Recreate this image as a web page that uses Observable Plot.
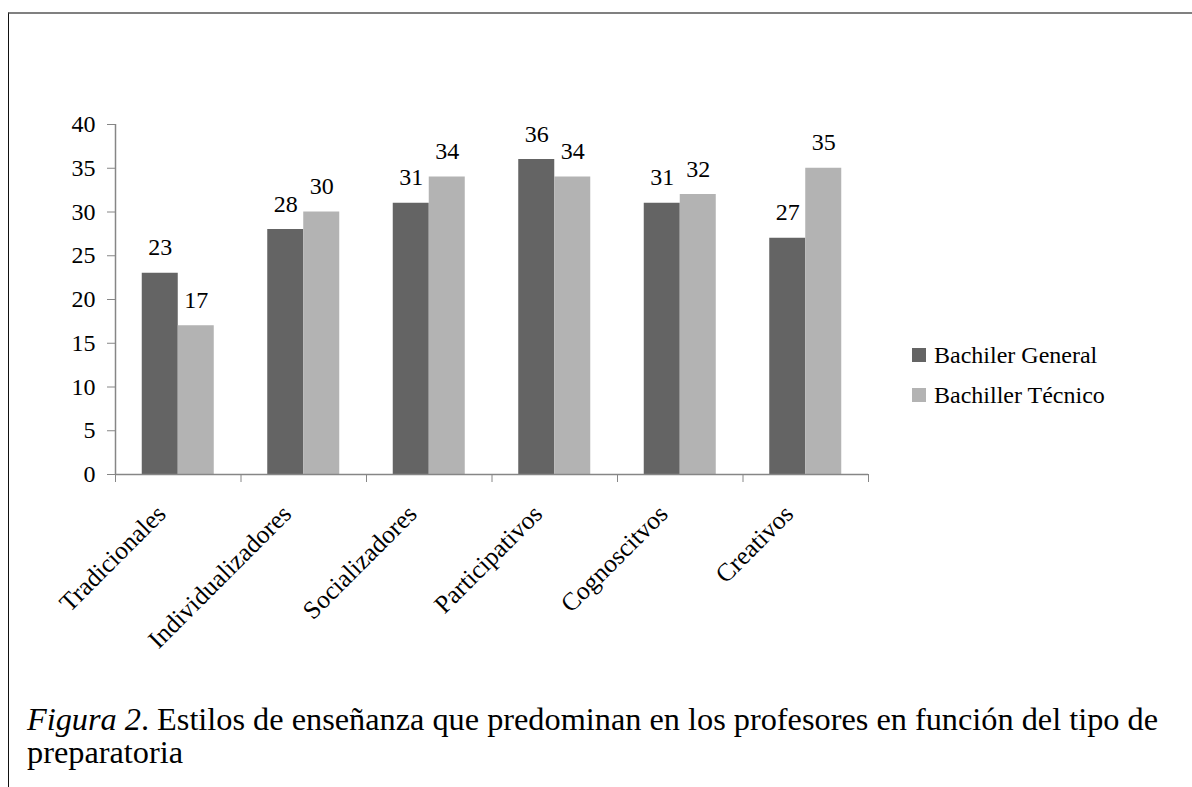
<!DOCTYPE html>
<html>
<head>
<meta charset="utf-8">
<script src="https://cdn.jsdelivr.net/npm/d3@7"></script>
<script src="https://cdn.jsdelivr.net/npm/@observablehq/plot@0.6"></script>
<style>
  body { margin: 0; background: #fff; }
  #wrap { position: relative; width: 1192px; height: 787px; overflow: hidden; font-family: "Liberation Serif", "Times New Roman", serif; }
  #frame { position: absolute; left: 8px; top: 12px; width: 1300px; height: 900px; border-top: 2px solid #808080; border-left: 1px solid #111; }
  #chart { position: absolute; left: 0; top: 0; }
  #chart svg g[aria-label="y-axis tick label"] text { fill: #000; }
  .lg-row { position: absolute; left: 912px; height: 40px; line-height: 40px; font-size: 24px; color: #000; white-space: nowrap; }
  .lg-sw { position: absolute; left: 0; top: 13px; width: 14px; height: 14px; }
  .lg-tx { position: absolute; left: 22px; top: 0; }
  #caption { position: absolute; left: 27px; top: 703px; font-size: 32.3px; line-height: 33px; color: #000; white-space: nowrap; }
</style>
</head>
<body>
<div id="wrap">
  <div id="frame"></div>
  <div id="chart"></div>
  <div id="legend"></div>
  <div id="caption"><i>Figura 2</i>. Estilos de enseñanza que predominan en los profesores en función del tipo de<br>preparatoria</div>
</div>
<script>
const categories = ["Tradicionales", "Individualizadores", "Socializadores", "Participativos", "Cognoscitvos", "Creativos"];
const series = ["Bachiler General", "Bachiller Técnico"];
const general = [23, 28, 31, 36, 31, 27];
const tecnico = [17, 30, 34, 34, 32, 35];
const yTicks = [0, 5, 10, 15, 20, 25, 30, 35, 40];
const colors = ["#646464", "#b3b3b3"];

const rowsG = categories.map((c, i) => ({i, c, s: series[0], v: general[i]}));
const rowsT = categories.map((c, i) => ({i, c, s: series[1], v: tecnico[i]}));
const catIdx = categories.map((c, i) => ({i, c}));
const boundaries = d3.range(categories.length + 1);

const axisColor = "#868686";

const chart = Plot.plot({
  width: 1192,
  height: 690,
  marginLeft: 115,
  marginRight: 324,
  marginTop: 124,
  marginBottom: 216,
  style: {fontFamily: "'Liberation Serif', 'Times New Roman', serif", fontSize: "24px", background: "transparent", overflow: "visible"},
  x: {domain: [0, categories.length], axis: null},
  y: {domain: [0, 40], axis: null},
  color: {domain: series, range: colors},
  marks: [
    Plot.rectY(rowsG, {x1: d => d.i, x2: d => d.i + 1, y: "v", fill: "s", insetLeft: 26.75, insetRight: 62.75}),
    Plot.rectY(rowsT, {x1: d => d.i, x2: d => d.i + 1, y: "v", fill: "s", insetLeft: 62.75, insetRight: 26.75}),
    Plot.text(rowsG, {x: d => d.i + 0.5, y: "v", text: d => String(d.v), dx: -18, dy: -18, lineAnchor: "bottom", fontSize: 24, fill: "#000"}),
    Plot.text(rowsT, {x: d => d.i + 0.5, y: "v", text: d => String(d.v), dx: 18, dy: -18, lineAnchor: "bottom", fontSize: 24, fill: "#000"}),
    Plot.ruleX([0], {y1: 0, y2: 40, stroke: axisColor, strokeWidth: 1.5}),
    Plot.ruleY([0], {stroke: axisColor, strokeWidth: 1.5}),
    Plot.axisY({ticks: yTicks, tickSize: 8, tickPadding: 12, tickFormat: d => String(d), fontSize: 24, color: axisColor, label: null}),
    Plot.axisX({ticks: boundaries, tickSize: 8, tickFormat: () => "", color: axisColor, label: null}),
    Plot.text(catIdx, {x: d => d.i + 0.5, text: "c", frameAnchor: "bottom", rotate: -45, textAnchor: "end", lineAnchor: "bottom", dx: -11, dy: 41, fontSize: 25.5, fill: "#000"})
  ]
});
document.getElementById("chart").appendChild(chart);

const legend = document.getElementById("legend");
const legendTops = [335, 375];
series.forEach((s, k) => {
  const row = document.createElement("div");
  row.className = "lg-row";
  row.style.top = legendTops[k] + "px";
  const sw = document.createElement("div");
  sw.className = "lg-sw";
  sw.style.background = colors[k];
  const tx = document.createElement("span");
  tx.className = "lg-tx";
  tx.textContent = s;
  row.appendChild(sw);
  row.appendChild(tx);
  legend.appendChild(row);
});
</script>
</body>
</html>
